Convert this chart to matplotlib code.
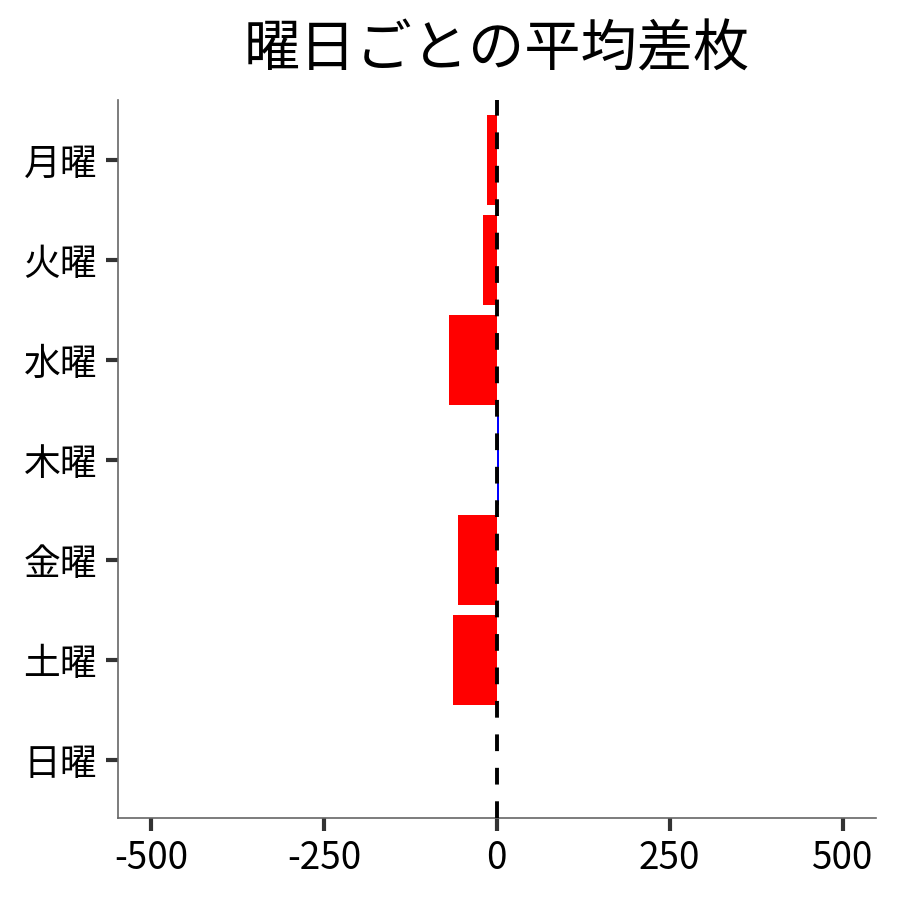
import numpy as np
import matplotlib
matplotlib.use('Agg')
import matplotlib.pyplot as plt

plt.rcParams['font.family'] = ['Noto Sans CJK JP', 'DejaVu Sans']

# 曜日ごとの平均差枚
days = ['月曜', '火曜', '水曜', '木曜', '金曜', '土曜', '日曜']
values = [-14, -20, -69, 3.5, -56, -64, 0]
xticks = [-500, -250, 0, 250, 500]

colors = ['blue' if v > 0 else 'red' for v in values]

fig, ax = plt.subplots(figsize=(9, 9), dpi=100)
fig.subplots_adjust(left=0.131, right=0.973, top=0.889, bottom=0.091)

y = np.arange(len(days))
ax.barh(y, values, height=0.9, color=colors, zorder=2)
ax.axvline(0, color='black', linewidth=2.8, linestyle=(0, (4.3, 4.3)), zorder=3)

ax.set_yticks(y)
ax.set_yticklabels(days)
ax.set_xticks(xticks)
ax.set_xticklabels([str(t) for t in xticks])
ax.set_xlim(-548, 548)
ax.set_ylim(6.58, -0.6)

ax.tick_params(axis='both', labelsize=26.5, length=9, width=3, color='#333333', pad=6)
for s in ['top', 'right']:
    ax.spines[s].set_visible(False)
for s in ['left', 'bottom']:
    ax.spines[s].set_color('#666666')
    ax.spines[s].set_linewidth(1.2)

ax.set_title('曜日ごとの平均差枚', fontsize=40.5, pad=24)

plt.savefig('out.png', dpi=100)
